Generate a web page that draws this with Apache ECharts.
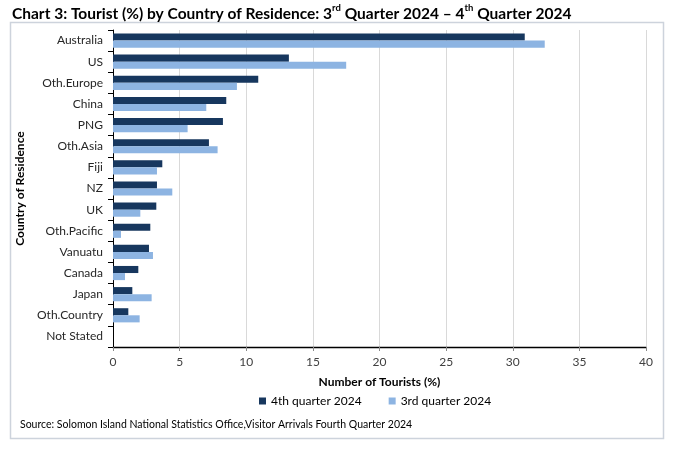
<!DOCTYPE html>
<html>
<head>
<meta charset="utf-8">
<script src="https://cdn.jsdelivr.net/npm/echarts@6/dist/echarts.min.js"></script>
<style>
html,body{margin:0;padding:0;background:#fff;}
#c{width:687px;height:456px;}
</style>
</head>
<body>
<div id="c"></div>
<script>
const categories = ['Australia','US','Oth.Europe','China','PNG','Oth.Asia','Fiji','NZ','UK','Oth.Pacific','Vanuatu','Canada','Japan','Oth.Country','Not Stated'];
const q4_2024 = [30.9, 13.2, 10.9, 8.5, 8.25, 7.2, 3.7, 3.3, 3.25, 2.8, 2.7, 1.9, 1.45, 1.15, 0];
const q3_2024 = [32.4, 17.5, 9.3, 7.0, 5.6, 7.85, 3.3, 4.45, 2.05, 0.6, 3.0, 0.9, 2.9, 2.0, 0];
const xTicks = [0,5,10,15,20,25,30,35,40];
const seriesNames = ['4th quarter 2024','3rd quarter 2024'];

const FONT = 'Lato';
const chart = echarts.init(document.getElementById('c'), null, {renderer:'canvas'});
chart.setOption({
  animation:false,
  textStyle:{fontFamily:FONT},
  title:{
    left:7, top:-2,
    text:'Chart 3: Tourist (%) by Country of Residence: 3{sup|rd} Quarter 2024 – 4{sup|th} Quarter 2024',
    textStyle:{
      fontFamily:FONT, fontSize:15.5, fontWeight:'bold', color:'#000',
      rich:{sup:{fontFamily:FONT, fontSize:9.5, fontWeight:'bold', color:'#000', verticalAlign:'top', lineHeight:21}}
    }
  },
  grid:{left:113, right:41, top:30, bottom:109, containLabel:false},
  legend:{
    data:seriesNames,
    bottom:44, left:254,
    icon:'rect', itemWidth:7, itemHeight:7, itemGap:27,
    textStyle:{fontFamily:FONT, fontSize:12, color:'#000'}
  },
  xAxis:{
    type:'value', min:xTicks[0], max:xTicks[xTicks.length-1], interval:5,
    name:'Number of Tourists (%)', nameLocation:'middle', nameGap:29,
    nameTextStyle:{fontFamily:FONT, fontSize:12, fontWeight:'bold', color:'#000'},
    axisLine:{show:true, lineStyle:{color:'#000', width:1.3}},
    axisTick:{show:true, length:4, lineStyle:{color:'#888'}},
    axisLabel:{fontFamily:FONT, fontSize:12, color:'#404040', margin:9},
    splitLine:{show:true, lineStyle:{color:'#d9d9d9', width:1}}
  },
  yAxis:{
    type:'category', data:categories, inverse:true,
    name:'Country of Residence', nameLocation:'middle', nameGap:87, nameRotate:90,
    nameTextStyle:{fontFamily:FONT, fontSize:12, fontWeight:'bold', color:'#000'},
    axisLine:{show:true, lineStyle:{color:'#000', width:1}},
    axisTick:{show:true, length:5, inside:false, lineStyle:{color:'#000'}},
    axisLabel:{fontFamily:FONT, fontSize:12, color:'#262626', margin:10}
  },
  series:[
    {name:seriesNames[0], type:'bar', data:q4_2024, barGap:'0%', barCategoryGap:'33%',
     itemStyle:{color:'#17375e'}},
    {name:seriesNames[1], type:'bar', data:q3_2024, barGap:'0%', barCategoryGap:'33%',
     itemStyle:{color:'#8db4e2'}}
  ],
  graphic:[
    {type:'rect', shape:{x:10.5, y:22.5, width:653, height:416},
     style:{fill:'none', stroke:'#cdd3dc', lineWidth:1.5}, silent:true, z:-1},
    {type:'text', left:20, top:419,
     style:{text:'Source: Solomon Island National Statistics Office,Visitor Arrivals Fourth Quarter 2024',
            fontFamily:FONT, fontSize:10.5, fill:'#000'}}
  ]
});
</script>
</body>
</html>
